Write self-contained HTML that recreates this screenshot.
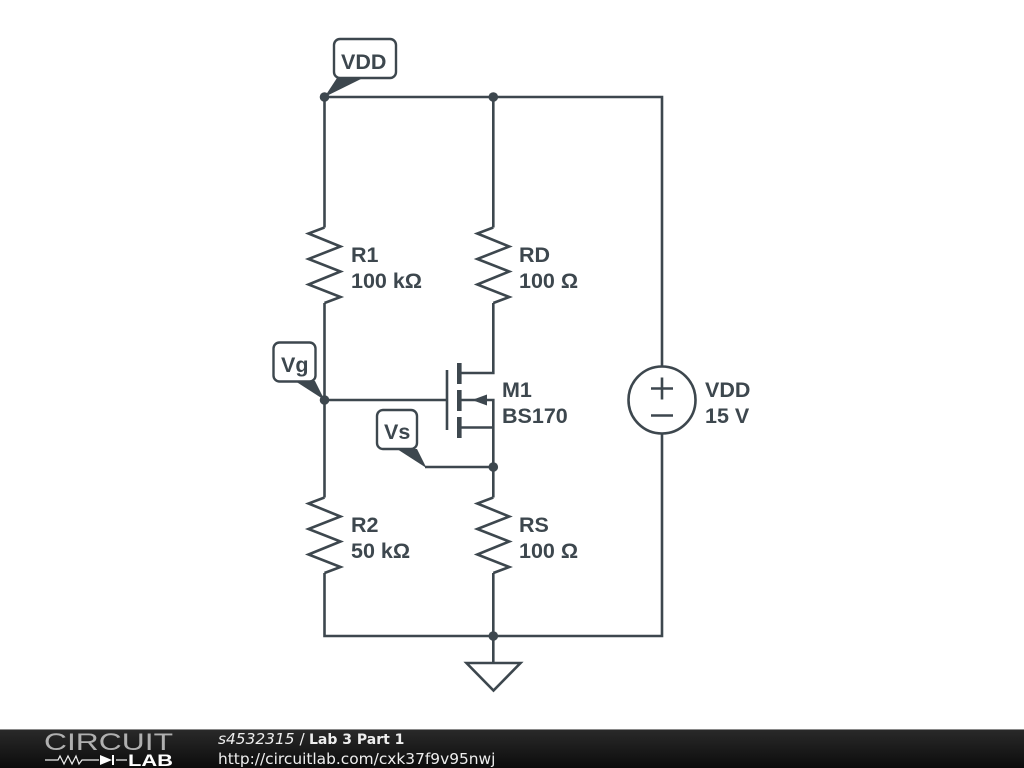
<!DOCTYPE html>
<html><head><meta charset="utf-8"><style>
html,body{margin:0;padding:0;background:#fff}
svg{display:block}
.t{font-family:"Liberation Sans",sans-serif;font-weight:bold;font-size:21.5px;fill:#3d474e}
.f{font-family:"DejaVu Sans",sans-serif;font-size:14.55px;fill:#eee}
</style></head><body>
<svg width="1024" height="768" viewBox="0 0 1024 768" xmlns="http://www.w3.org/2000/svg">
<defs>
<linearGradient id="g" x1="0" y1="0" x2="0" y2="1"><stop offset="0" stop-color="#2a2a2a"/><stop offset="1" stop-color="#0c0c0c"/></linearGradient>
</defs>
<g fill="none" stroke="#3d474e" stroke-width="2.6" stroke-linejoin="miter">
<path d="M324.5 227.5V97H662V366M662 434V636H324.5V573M493.3 97V227.5M493.3 303V373H459M459 400H493.3V497.5M459 427.5H493.3M493.3 573V662M324.5 303V497.5M324.5 400H447M425 467H493.3"/>
<path d="M324.5 227.5L308.5 233.5L340.5 246.5L308.5 259L340.5 271.5L308.5 284.5L340.5 297L324.5 303"/>
<path d="M493.3 227.5L477.3 233.5L509.3 246.5L477.3 259L509.3 271.5L477.3 284.5L509.3 297L493.3 303"/>
<path d="M324.5 497.5L308.5 503.5L340.5 516.5L308.5 529L340.5 541.5L308.5 554.5L340.5 567L324.5 573"/>
<path d="M493.3 497.5L477.3 503.5L509.3 516.5L477.3 529L509.3 541.5L477.3 554.5L509.3 567L493.3 573"/>
<circle cx="662" cy="400" r="33.5"/>
<path d="M651 388.5H673M662 377.5V399.5M651 415.5H673"/>
<path d="M466.5 663H520.5L493.5 690.5Z"/>
<path d="M447 370V430"/>
</g>
<g fill="#3d474e">
<rect x="457" y="363" width="4.6" height="21"/><rect x="457" y="390" width="4.6" height="21"/><rect x="457" y="417" width="4.6" height="21"/>
<path d="M472 400L487 394.5V405.5Z"/>
<circle cx="324.5" cy="97" r="4.8"/><circle cx="493.3" cy="97" r="4.8"/><circle cx="324.5" cy="400" r="4.8"/><circle cx="493.3" cy="467" r="4.8"/><circle cx="493.3" cy="636" r="4.8"/>
<path d="M324.5 97L337 78H363Z"/><path d="M324.5 400L295 381H315Z"/><path d="M426.5 468L397 449H417Z"/>
</g>
<g fill="none" stroke="#3d474e" stroke-width="2.4">
<rect x="334" y="39" width="62" height="39" rx="6"/><rect x="273.5" y="342.5" width="42" height="39" rx="6"/><rect x="377" y="410" width="40" height="39" rx="6"/>
</g>
<g>
<text class="t" x="341" y="69">VDD</text><text class="t" x="281" y="372">Vg</text><text class="t" x="384" y="439">Vs</text>
<text class="t" x="351" y="262">R1</text><text class="t" x="351" y="288">100 kΩ</text>
<text class="t" x="519" y="262">RD</text><text class="t" x="519" y="288">100 Ω</text>
<text class="t" x="351" y="532">R2</text><text class="t" x="351" y="558">50 kΩ</text>
<text class="t" x="519" y="532">RS</text><text class="t" x="519" y="558">100 Ω</text>
<text class="t" x="502" y="397">M1</text><text class="t" x="502" y="423">BS170</text>
<text class="t" x="705" y="397">VDD</text><text class="t" x="705" y="423">15 V</text>
</g>
<rect x="0" y="729" width="1024" height="39" fill="url(#g)"/>
<rect x="0" y="729" width="1024" height="1" fill="#8a8a8a"/>
<text x="44" y="750" font-family="'Liberation Sans',sans-serif" font-size="24" fill="#b0b0b0" textLength="129" lengthAdjust="spacingAndGlyphs">CIRCUIT</text>
<path d="M45 760H58L60 756L64 764L68 756L72 764L76 756L79 764L82 760H99M116 760H127" fill="none" stroke="#eee" stroke-width="1.2"/>
<path d="M100 755L112 760L100 765Z" fill="#fff"/><rect x="112" y="755" width="2" height="10" fill="#fff"/>
<text x="128" y="766" font-family="'Liberation Sans',sans-serif" font-weight="bold" font-size="17" fill="#fff" textLength="45" lengthAdjust="spacingAndGlyphs">LAB</text>
<text class="f" x="218" y="744" style="font-size:15.4px"><tspan font-style="italic">s4532315</tspan> / </text>
<text class="f" x="309" y="744" style="font-size:14px;font-weight:bold">Lab 3 Part 1</text>
<text class="f" x="218" y="764" style="font-size:15.4px">http://circuitlab.com/cxk37f9v95nwj</text>
</svg>
</body></html>
